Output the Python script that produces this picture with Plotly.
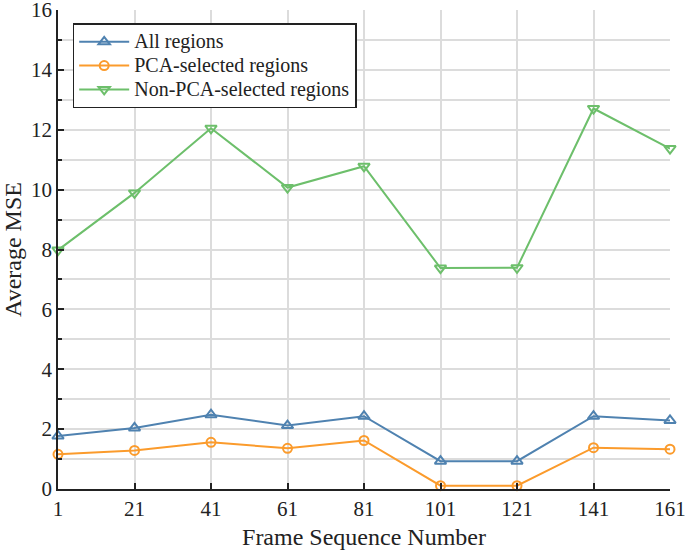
import plotly.graph_objects as go

frames = [1, 21, 41, 61, 81, 101, 121, 141, 161]
all_regions = [1.77, 2.04, 2.48, 2.12, 2.43, 0.93, 0.93, 2.43, 2.29]
pca_selected = [1.16, 1.29, 1.56, 1.36, 1.62, 0.11, 0.11, 1.38, 1.33]
non_pca_selected = [7.98, 9.89, 12.05, 10.07, 10.78, 7.38, 7.39, 12.71, 11.37]
series_names = ["All regions", "PCA-selected regions", "Non-PCA-selected regions"]
x_ticks = [1, 21, 41, 61, 81, 101, 121, 141, 161]
y_ticks = [0, 2, 4, 6, 8, 10, 12, 14, 16]

blue = "#4f82b0"
orange = "#fb9b2c"
green = "#6dbf6b"
font_family = "Liberation Serif, Times New Roman, serif"


def legend_label(name):
    return '<span style="font-size:20px">' + name + '</span>'


fig = go.Figure()
fig.add_trace(go.Scatter(x=frames, y=all_regions, name=legend_label(series_names[0]), mode="lines+markers",
                         line=dict(color=blue, width=2),
                         marker=dict(symbol="triangle-up-open", size=10, color=blue, line=dict(width=2)),
                         cliponaxis=False))
fig.add_trace(go.Scatter(x=frames, y=pca_selected, name=legend_label(series_names[1]), mode="lines+markers",
                         line=dict(color=orange, width=2),
                         marker=dict(symbol="circle-open", size=9, color=orange, line=dict(width=2)),
                         cliponaxis=False))
fig.add_trace(go.Scatter(x=frames, y=non_pca_selected, name=legend_label(series_names[2]), mode="lines+markers",
                         line=dict(color=green, width=2),
                         marker=dict(symbol="triangle-down-open", size=10, color=green, line=dict(width=2)),
                         cliponaxis=False))

grid_color = "#dcdcdc"
fig.update_layout(
    width=685, height=555,
    margin=dict(l=58, r=15, t=10, b=66, autoexpand=False),
    paper_bgcolor="white", plot_bgcolor="white",
    font=dict(family=font_family, color="#222222"),
    legend=dict(x=0.024, y=0.972, xanchor="left", yanchor="top",
                bgcolor="white", bordercolor="#222222", borderwidth=1.5,
                font=dict(size=16, family=font_family, color="#222222"),
                tracegroupgap=0, itemwidth=50),
    xaxis=dict(range=[1, 161], tickvals=x_ticks, ticktext=[str(v) for v in x_ticks],
               ticks="inside", ticklen=6, tickwidth=1.5, tickcolor="#222222",
               showline=True, linecolor="#222222", linewidth=1.5,
               showgrid=True, gridcolor=grid_color, gridwidth=1.5,
               zeroline=False, tickfont=dict(size=21), ticklabeloverflow="allow",
               automargin=False,
               title=dict(text="Frame Sequence Number", font=dict(size=24), standoff=8)),
    yaxis=dict(range=[0, 16], tickvals=y_ticks, ticktext=[str(v) for v in y_ticks],
               ticks="inside", ticklen=6, tickwidth=1.5, tickcolor="#222222",
               showline=True, linecolor="#222222", linewidth=1.5,
               showgrid=True, gridcolor=grid_color, gridwidth=1.5,
               minor=dict(dtick=1, ticks="inside", ticklen=4, tickcolor="#222222",
                          showgrid=True, gridcolor=grid_color, gridwidth=1.5),
               zeroline=False, tickfont=dict(size=21), ticklabeloverflow="allow",
               automargin=False,
               title=dict(text="Average MSE", font=dict(size=24), standoff=8)),
)

fig.write_html("out.html", config={"displayModeBar": False},
               post_script="document.body.style.margin='0px';document.body.style.overflow='hidden';")
